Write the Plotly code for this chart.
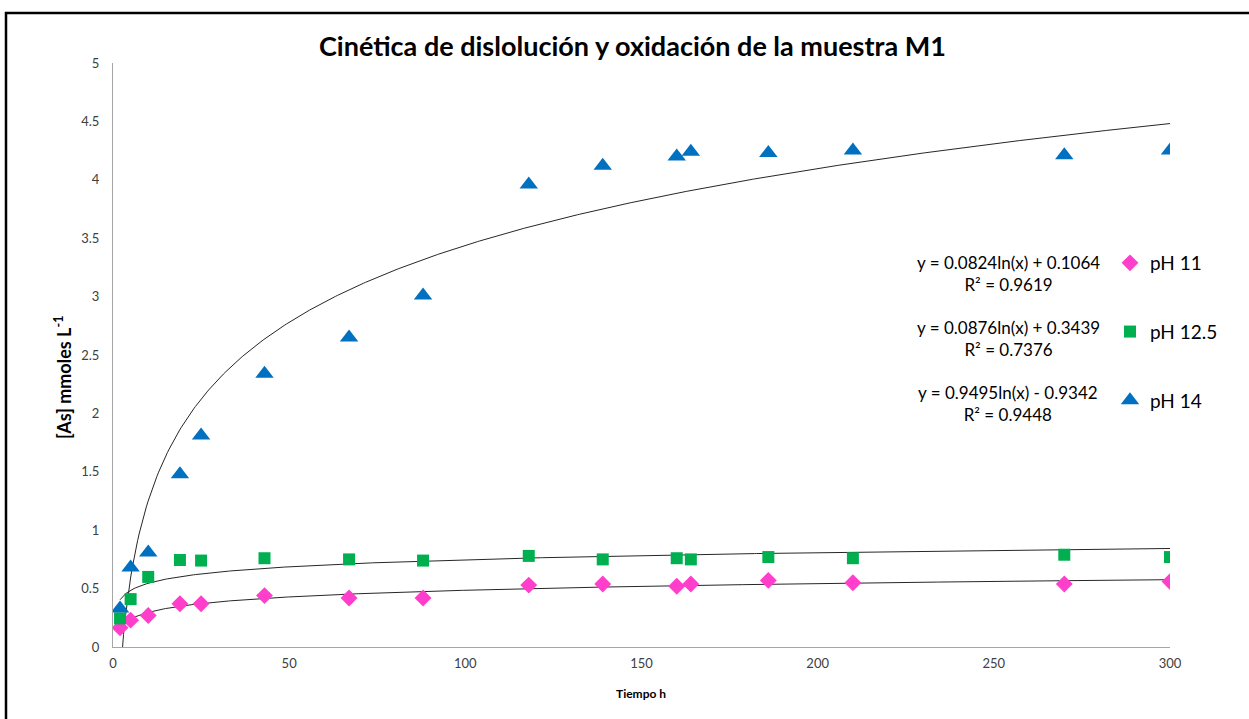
import numpy as np
import plotly.graph_objects as go

# Sampling times (h)
tiempo = [2, 5, 10, 19, 25, 43, 67, 88, 118, 139, 160, 164, 186, 210, 270, 300]

# [As] concentration (mmol/L) for each pH
ph11 = [0.165, 0.23, 0.27, 0.37, 0.37, 0.44, 0.42, 0.42, 0.53, 0.54, 0.52, 0.54, 0.57, 0.55, 0.54, 0.56]
ph125 = [0.245, 0.41, 0.60, 0.745, 0.74, 0.76, 0.75, 0.74, 0.78, 0.75, 0.76, 0.75, 0.77, 0.76, 0.79, 0.77]
ph14 = [0.33, 0.68, 0.81, 1.48, 1.81, 2.34, 2.65, 3.01, 3.96, 4.12, 4.20, 4.24, 4.23, 4.25, 4.21, 4.25]

# Logarithmic trendlines y = a*ln(x) + b
fit_a = [0.0824, 0.0876, 0.9495]
fit_b = [0.1064, 0.3439, -0.9342]
fit_r2 = ["0.9619", "0.7376", "0.9448"]
fit_text = ["y = 0.0824ln(x) + 0.1064", "y = 0.0876ln(x) + 0.3439", "y = 0.9495ln(x) - 0.9342"]

names = ["pH 11", "pH 12.5", "pH 14"]
colors = ["#FF3FCC", "#00B050", "#0070C0"]
symbols = ["diamond", "square", "triangle-up"]
sizes = [13, 12, 16]
series = [ph11, ph125, ph14]

W, H = 1249, 719
L, R, T, B = 113, 1170, 63, 647

fig = go.Figure()

xs = np.linspace(min(tiempo), max(tiempo), 600)
for a, b in zip(fit_a, fit_b):
    fig.add_trace(go.Scatter(x=xs, y=a * np.log(xs) + b, mode="lines",
                             line=dict(color="#262626", width=1),
                             showlegend=False, hoverinfo="skip"))

for i, (name, ys) in enumerate(zip(names, series)):
    fig.add_trace(go.Scatter(x=tiempo, y=ys, mode="markers", name=name,
                             legendgroup=name,
                             marker=dict(symbol=symbols[i], size=sizes[i], color=colors[i],
                                         line=dict(width=0))))

def px_x(p):
    return (p - L) / (R - L)

def px_y(p):
    return (B - p) / (B - T)

font = "Lato, 'Open Sans', sans-serif"

annotations = [
    dict(text="<b>Cinética de dislolución y oxidación de la muestra M1</b>",
         xref="paper", yref="paper", x=px_x(632), y=px_y(46), xanchor="center", yanchor="middle",
         showarrow=False, font=dict(family=font, size=27, color="#000000")),
    dict(text="<b>[As] mmoles L<sup>-1</sup></b>", textangle=-90,
         xref="paper", yref="paper", x=px_x(63), y=px_y(378), xanchor="center", yanchor="middle",
         showarrow=False, font=dict(family=font, size=18, color="#000000")),
    dict(text="<b>Tiempo h</b>",
         xref="paper", yref="paper", x=px_x(641), y=px_y(693), xanchor="center", yanchor="middle",
         showarrow=False, font=dict(family=font, size=12, color="#000000")),
]

eq_centers = [273, 338, 403]
for txt, r2, cy in zip(fit_text, fit_r2, eq_centers):
    annotations.append(dict(text=f"{txt}<br>R² = {r2}",
                            xref="paper", yref="paper", x=px_x(1008), y=px_y(cy),
                            xanchor="center", yanchor="middle", align="center",
                            showarrow=False, font=dict(family=font, size=17, color="#000000")))

fig.update_layout(
    width=W, height=H,
    margin=dict(l=L, r=W - R, t=T, b=H - B),
    paper_bgcolor="white", plot_bgcolor="white",
    annotations=annotations,
    showlegend=True,
    legend=dict(x=px_x(1110), y=px_y(244), xanchor="left", yanchor="top",
                font=dict(family=font, size=19, color="#000000"),
                tracegroupgap=41, itemsizing="trace", bgcolor="rgba(0,0,0,0)"),
    xaxis=dict(range=[0, 300], tickvals=[0, 50, 100, 150, 200, 250, 300],
               showgrid=False, zeroline=False, showline=True, linecolor="#A6A6A6", linewidth=1,
               ticks="", ticklabelstandoff=4, tickfont=dict(family=font, size=13, color="#404040")),
    yaxis=dict(range=[0, 5], dtick=0.5, tickformat="~g",
               showgrid=False, zeroline=False, showline=True, linecolor="#A6A6A6", linewidth=1,
               ticks="", ticklabelstandoff=10, tickfont=dict(family=font, size=13, color="#404040")),
    shapes=[dict(type="rect", xref="paper", yref="paper",
                 x0=px_x(6), x1=px_x(1290), y0=px_y(13), y1=px_y(760),
                 line=dict(color="#000000", width=2.5), fillcolor="rgba(0,0,0,0)")],
)

fig.write_html("out.html")
